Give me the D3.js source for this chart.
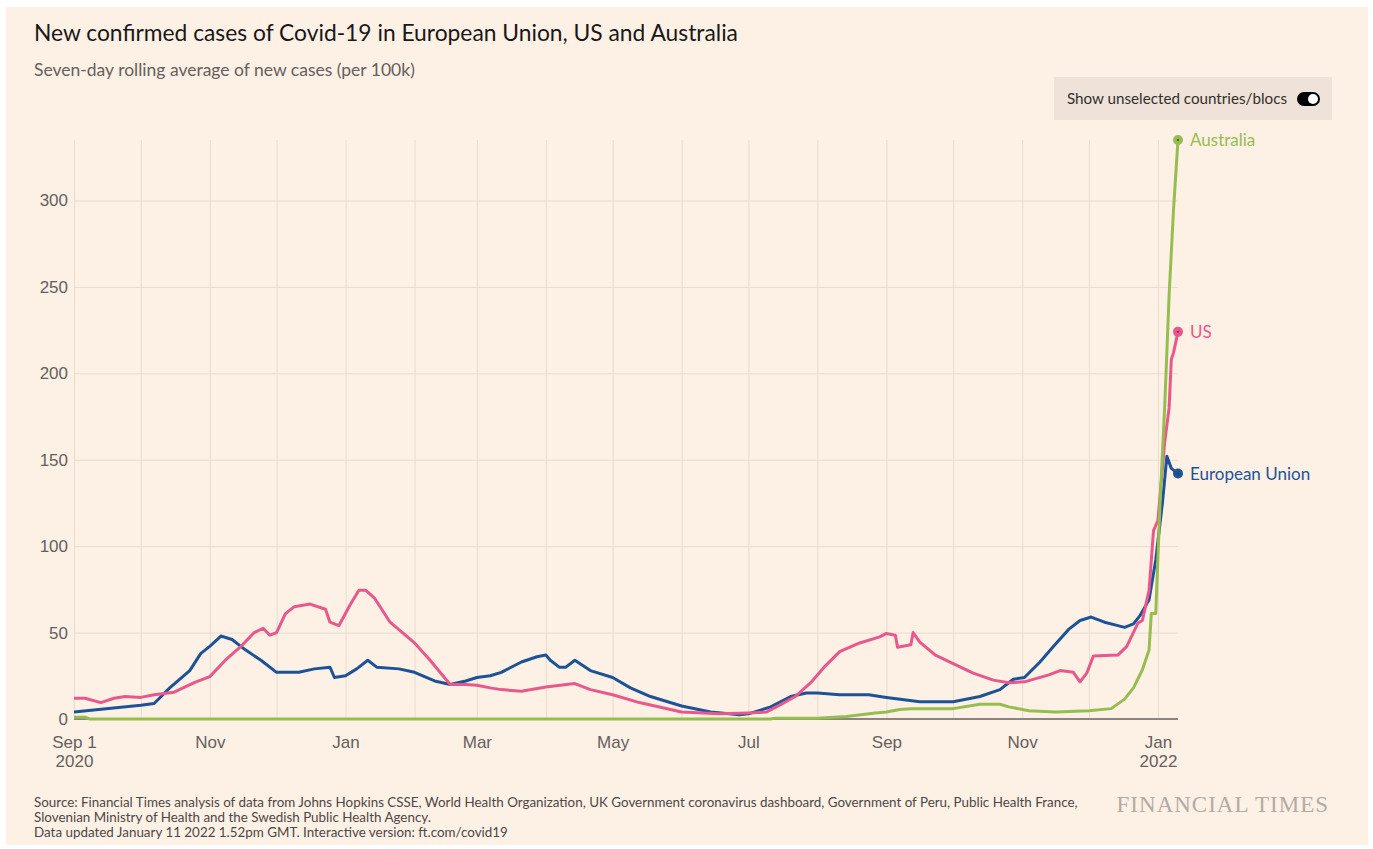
<!DOCTYPE html>
<html>
<head>
<meta charset="utf-8">
<script src="https://cdn.jsdelivr.net/npm/d3@7"></script>
<style>
  body { margin: 0; background: #ffffff; }
  svg { display: block; font-family: Lato, "Noto Sans", sans-serif; }
</style>
</head>
<body>
<script>
// data (7-day average, new cases per 100k)
let euDates = ["2020-09-01","2020-10-01","2020-10-07","2020-10-14","2020-10-23","2020-10-28","2020-11-01","2020-11-06","2020-11-11","2020-11-17","2020-11-24","2020-12-01","2020-12-11","2020-12-18","2020-12-25","2020-12-27","2021-01-01","2021-01-06","2021-01-11","2021-01-15","2021-01-25","2021-02-01","2021-02-10","2021-02-17","2021-02-24","2021-03-01","2021-03-07","2021-03-12","2021-03-21","2021-03-28","2021-04-01","2021-04-03","2021-04-07","2021-04-10","2021-04-14","2021-04-21","2021-05-01","2021-05-09","2021-05-18","2021-06-01","2021-06-14","2021-06-27","2021-07-01","2021-07-11","2021-07-20","2021-07-27","2021-08-01","2021-08-11","2021-08-24","2021-09-01","2021-09-16","2021-10-01","2021-10-13","2021-10-22","2021-10-28","2021-11-02","2021-11-09","2021-11-15","2021-11-22","2021-11-27","2021-12-02","2021-12-08","2021-12-14","2021-12-17","2021-12-21","2021-12-24","2021-12-28","2021-12-31","2022-01-03","2022-01-05","2022-01-07","2022-01-10"];
let euValues = [4,8,9,18,28,38,42,48,46,40,34,27,27,29,30,24,25,29,34,30,29,27,22,20,22,24,25,27,33,36,37,34,30,30,34,28,24,18,13,7.5,4,2.5,3,7,13,15,15,14,14,12.5,10,10,13,17,23,24,33,42,52,57,59,56,54,53,55,60,69,92,125,152,145,142];

let usDates = ["2020-09-01","2020-09-06","2020-09-13","2020-09-19","2020-09-24","2020-10-01","2020-10-07","2020-10-16","2020-10-25","2020-11-01","2020-11-08","2020-11-15","2020-11-21","2020-11-25","2020-11-28","2020-12-01","2020-12-05","2020-12-09","2020-12-16","2020-12-23","2020-12-25","2020-12-29","2021-01-03","2021-01-07","2021-01-10","2021-01-14","2021-01-21","2021-02-01","2021-02-08","2021-02-17","2021-02-24","2021-03-01","2021-03-07","2021-03-12","2021-03-21","2021-04-01","2021-04-14","2021-04-21","2021-05-01","2021-05-13","2021-06-01","2021-06-18","2021-07-01","2021-07-09","2021-07-15","2021-07-22","2021-07-29","2021-08-04","2021-08-11","2021-08-20","2021-08-29","2021-09-01","2021-09-05","2021-09-06","2021-09-12","2021-09-13","2021-09-16","2021-09-23","2021-10-01","2021-10-10","2021-10-19","2021-10-26","2021-11-02","2021-11-13","2021-11-18","2021-11-24","2021-11-27","2021-11-30","2021-12-03","2021-12-14","2021-12-18","2021-12-23","2021-12-25","2021-12-28","2021-12-30","2022-01-01","2022-01-02","2022-01-04","2022-01-06","2022-01-07","2022-01-08","2022-01-10"];
let usValues = [12,12,9.5,12,13,12.5,14,15.5,21,24.5,34,42,50,52.5,48.5,50,61,65,66.5,63.5,56,54,66,74.5,74.5,70,56,44,34,20,20,19.5,18,17,16,18.5,20.5,17,14,9.5,4,3,3.5,4,8,13,21,30,39,44,47.5,49.5,48.5,41.5,43,50,44.5,37,32,26.5,22.5,21,21.5,25.5,28,27,21.5,26.5,36.5,37,42,55.5,57,74.5,109,115,130,160,180,208,212,224];

let auDates = ["2020-09-01","2020-09-06","2020-09-08","2021-07-11","2021-07-13","2021-08-01","2021-08-14","2021-08-27","2021-09-01","2021-09-07","2021-09-12","2021-10-01","2021-10-13","2021-10-22","2021-10-26","2021-11-04","2021-11-16","2021-12-01","2021-12-11","2021-12-17","2021-12-21","2021-12-25","2021-12-28","2021-12-29","2021-12-31","2022-01-02","2022-01-04","2022-01-06","2022-01-08","2022-01-10"];
let auValues = [1,1,0,0,0.5,0.5,1.5,3.5,4,5.5,6,6,8.5,8.5,7,4.8,4,4.8,6,11.5,18,28.5,40,61,61,127,180,245,295,335];

let yTicks = [0, 50, 100, 150, 200, 250, 300];
let xTickDates = ["2020-09-01","2020-11-01","2021-01-01","2021-03-01","2021-05-01","2021-07-01","2021-09-01","2021-11-01","2022-01-01"];
let xTickLabels = [["Sep 1","2020"],["Nov"],["Jan"],["Mar"],["May"],["Jul"],["Sep"],["Nov"],["Jan","2022"]];

let seriesNames = ["European Union", "US", "Australia"];
let seriesColors = ["#1d5297", "#e9588a", "#96bd4f"];

let x = 1373;
let y = 849;
let padding =
    {
      top: 140,
      left: 74,
      right: 1178,
      bottom: 719
    }

let parse = d3.timeParse("%Y-%m-%d");
let svg = d3.select("body").append("svg").attr("width", x).attr("height", y);

let scaleX = d3.scaleTime()
  .domain([parse("2020-09-01"), parse("2022-01-10")])
  .range([padding.left, padding.right]);
let scaleY = d3.scaleLinear()
  .domain([0, 335])
  .range([padding.bottom, padding.top]);

let DrawBackground = () =>
{
  svg.append("rect")
    .attr("x", 6).attr("y", 7)
    .attr("width", 1362).attr("height", 838)
    .attr("fill", "#fdf0e5");
}

let DrawText = () =>
{
  svg.append("text")
    .text("New confirmed cases of Covid-19 in European Union, US and Australia")
    .attr("x", 34).attr("y", 41)
    .attr("font-size", "22.8px")
    .attr("fill", "#1a1817");
  svg.append("text")
    .text("Seven-day rolling average of new cases (per 100k)")
    .attr("x", 34).attr("y", 76)
    .attr("font-size", "17.5px")
    .attr("fill", "#66605c");

  // toggle box
  svg.append("rect")
    .attr("x", 1054).attr("y", 77)
    .attr("width", 278).attr("height", 43)
    .attr("fill", "#efe2d8");
  svg.append("text")
    .text("Show unselected countries/blocs")
    .attr("x", 1067).attr("y", 104)
    .attr("font-size", "15.2px")
    .attr("fill", "#33302e");
  svg.append("rect")
    .attr("x", 1297).attr("y", 92)
    .attr("width", 23).attr("height", 14)
    .attr("rx", 7)
    .attr("fill", "#000");
  svg.append("circle")
    .attr("cx", 1313).attr("cy", 99)
    .attr("r", 5)
    .attr("fill", "#fff");

  let foot = svg.append("text")
    .attr("x", 34).attr("y", 807)
    .attr("font-size", "13.4px")
    .attr("fill", "#4d4845");
  let lines = [
    "Source: Financial Times analysis of data from Johns Hopkins CSSE, World Health Organization, UK Government coronavirus dashboard, Government of Peru, Public Health France,",
    "Slovenian Ministry of Health and the Swedish Public Health Agency.",
    "Data updated January 11 2022 1.52pm GMT. Interactive version: ft.com/covid19"
  ];
  lines.forEach((l, i) =>
  {
    foot.append("tspan").attr("x", 34).attr("dy", i == 0 ? 0 : 15).text(l);
  });

  svg.append("text")
    .text("FINANCIAL TIMES")
    .attr("x", 1329).attr("y", 812)
    .attr("text-anchor", "end")
    .attr("font-family", "'Liberation Serif', serif")
    .attr("font-size", "23px")
    .attr("letter-spacing", "1px")
    .attr("fill", "#b3aba4");
}

let DrawAxis = () =>
{
  // horizontal grid
  svg.append("g")
    .attr("transform", "translate(" + padding.left + ",0)")
    .call(d3.axisLeft(scaleY).tickValues(yTicks.slice(1)).tickSize(-(padding.right - padding.left)).tickFormat(""))
    .call(g => g.select(".domain").remove())
    .call(g => g.selectAll("line").attr("stroke", "#e8dbd0").attr("stroke-width", 1));

  // vertical grid, every month
  svg.append("g")
    .attr("transform", "translate(0," + padding.bottom + ")")
    .call(d3.axisBottom(scaleX).ticks(d3.timeMonth.every(1)).tickSize(-(padding.bottom - padding.top)).tickFormat(""))
    .call(g => g.select(".domain").remove())
    .call(g => g.selectAll("line").attr("stroke", "#e8dbd0").attr("stroke-width", 1));

  svg.append("g")
    .attr("transform", "translate(" + padding.left + ",0)")
    .call(d3.axisLeft(scaleY).tickValues(yTicks).tickSize(0).tickPadding(6))
    .call(g => g.select(".domain").remove())
    .call(g => g.selectAll("text").attr("font-size", "17px").attr("fill", "#66605c").attr("font-family", null));

  let xAxis = svg.append("g")
    .attr("transform", "translate(0," + padding.bottom + ")")
    .call(d3.axisBottom(scaleX).tickValues(xTickDates.map(parse)).tickSize(0).tickPadding(17).tickFormat(""))
    .call(g => g.select(".domain").remove());
  xAxis.selectAll(".tick text")
    .attr("font-size", "17px")
    .attr("fill", "#66605c")
    .attr("font-family", null)
    .attr("dy", null)
    .attr("y", 0)
    .each(function(d, i)
    {
      let t = d3.select(this);
      xTickLabels[i].forEach((l, j) =>
      {
        t.append("tspan").attr("x", 0).attr("y", 29 + j * 19).text(l);
      });
    });

  svg.append("line")
    .attr("x1", padding.left).attr("x2", padding.right)
    .attr("y1", padding.bottom).attr("y2", padding.bottom)
    .attr("stroke", "#66605c")
    .attr("stroke-width", 1.5);
}

let DrawLines = () =>
{
  let all = [[euDates, euValues], [usDates, usValues], [auDates, auValues]];
  let line = d3.line()
    .x(d => scaleX(d[0]))
    .y(d => scaleY(d[1]));

  all.forEach((s, i) =>
  {
    let pts = s[0].map((d, j) => [parse(d), s[1][j]]);
    svg.append("path")
      .datum(pts)
      .attr("fill", "none")
      .attr("stroke", seriesColors[i])
      .attr("stroke-width", 3)
      .attr("stroke-linejoin", "round")
      .attr("d", line);
  });

  all.forEach((s, i) =>
  {
    let last = [parse(s[0][s[0].length - 1]), s[1][s[1].length - 1]];
    svg.append("circle")
      .attr("cx", scaleX(last[0])).attr("cy", scaleY(last[1]))
      .attr("r", 5)
      .attr("fill", seriesColors[i]);
    svg.append("circle")
      .attr("cx", scaleX(last[0])).attr("cy", scaleY(last[1]))
      .attr("r", 0.9)
      .attr("fill", "#333");
    svg.append("text")
      .text(seriesNames[i])
      .attr("x", scaleX(last[0]) + 12)
      .attr("y", scaleY(last[1]))
      .attr("dy", "0.35em")
      .attr("font-size", "17px")
      .attr("fill", seriesColors[i]);
  });
}

DrawBackground();
DrawText();
DrawAxis();
DrawLines();
</script>
</body>
</html>
